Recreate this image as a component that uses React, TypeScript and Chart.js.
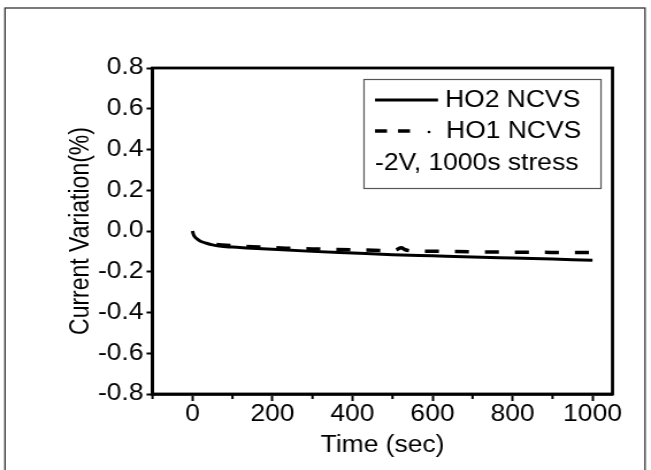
import React, { useEffect, useRef } from "react";
import { Chart, registerables } from "chart.js";

Chart.register(...registerables);

// ---- data ----
const ho2Time = [0, 2, 5, 12, 20, 35, 50, 67, 100, 135, 200, 300, 400, 500, 600, 700, 800, 900, 1000];
const ho2Values = [0, -0.015, -0.027, -0.04, -0.05, -0.06, -0.068, -0.074, -0.079, -0.083, -0.09, -0.1, -0.108, -0.116, -0.122, -0.128, -0.133, -0.138, -0.143];

const ho1Time = [60, 100, 150, 200, 250, 300, 400, 500, 512, 522, 532, 550, 600, 700, 800, 900, 1000];
const ho1Values = [-0.066, -0.072, -0.077, -0.082, -0.085, -0.088, -0.092, -0.096, -0.09, -0.082, -0.092, -0.098, -0.099, -0.102, -0.104, -0.105, -0.106];

const seriesNames = ["HO2 NCVS", "HO1 NCVS"];
const noteText = "-2V, 1000s stress";

const xTickValues = [0, 200, 400, 600, 800, 1000];
const xMinorTickValues = [-100, 100, 300, 500, 700, 900];
const yTickValues = [-0.8, -0.6, -0.4, -0.2, 0.0, 0.2, 0.4, 0.6, 0.8];

const FONT = "'Liberation Sans', Arial, sans-serif";
const FS = 23;

// the picture is slightly stretched horizontally: draw a narrower canvas then scale in X
const CW = 566;
const CH = 470;
const S = 651 / CW;
const sx = (x: number) => x / S;

const framePlugin = {
  id: "framePlugin",
  beforeDraw(chart: any) {
    const ctx = chart.ctx;
    ctx.save();
    ctx.fillStyle = "#ffffff";
    ctx.fillRect(0, 0, chart.width, chart.height);
    ctx.strokeStyle = "#333333";
    ctx.lineWidth = 1.3;
    ctx.strokeRect(sx(5), 8, sx(645) - sx(5), 480);
    ctx.restore();
  },
  afterDraw(chart: any) {
    const ctx = chart.ctx;
    const a = chart.chartArea;
    const xs = chart.scales.x;
    ctx.save();
    // box around plot
    ctx.strokeStyle = "#000";
    ctx.lineWidth = 2.8;
    ctx.strokeRect(a.left, a.top, a.right - a.left, a.bottom - a.top);
    // minor ticks on x
    ctx.lineWidth = 2;
    for (const v of xMinorTickValues) {
      const px = xs.getPixelForValue(v);
      ctx.beginPath();
      ctx.moveTo(px, a.bottom);
      ctx.lineTo(px, a.bottom + 5);
      ctx.stroke();
    }
    // legend box
    const bx = sx(364), by = 79, bw = sx(601) - sx(364), bh = 109;
    ctx.strokeStyle = "#555";
    ctx.lineWidth = 1.2;
    ctx.strokeRect(bx, by + 0.5, bw, bh);
    ctx.font = `${FS}px ${FONT}`;
    ctx.fillStyle = "#000";
    ctx.textBaseline = "middle";
    ctx.textAlign = "left";
    const ds = chart.data.datasets;
    // row 1
    ctx.strokeStyle = "#000";
    ctx.lineWidth = ds[0].borderWidth;
    ctx.setLineDash([]);
    ctx.beginPath();
    ctx.moveTo(sx(375), 100);
    ctx.lineTo(sx(438), 100);
    ctx.stroke();
    ctx.fillText(ds[0].label, sx(445), 101);
    // row 2
    ctx.lineWidth = ds[1].borderWidth;
    ctx.beginPath();
    ctx.moveTo(sx(375), 131);
    ctx.lineTo(sx(387), 131);
    ctx.moveTo(sx(398), 131);
    ctx.lineTo(sx(410), 131);
    ctx.stroke();
    ctx.beginPath();
    ctx.arc(sx(429), 132, 1.3, 0, Math.PI * 2);
    ctx.fill();
    ctx.fillText(ds[1].label, sx(446), 132);
    // row 3
    ctx.fillText(noteText, sx(375), 164);
    ctx.restore();
  },
};

export default function App() {
  const canvasRef = useRef<HTMLCanvasElement | null>(null);

  useEffect(() => {
    const canvas = canvasRef.current;
    if (!canvas) return;
    const chart = new Chart(canvas, {
      type: "line",
      data: {
        datasets: [
          {
            label: seriesNames[0],
            data: ho2Time.map((t, i) => ({ x: t, y: ho2Values[i] })),
            borderColor: "#000",
            borderWidth: 3,
            pointRadius: 0,
            cubicInterpolationMode: "monotone",
            fill: false,
          },
          {
            label: seriesNames[1],
            data: ho1Time.map((t, i) => ({ x: t, y: ho1Values[i] })),
            borderColor: "#000",
            borderWidth: 3.5,
            borderDash: [sx(14), sx(16)],
            pointRadius: 0,
            cubicInterpolationMode: "monotone",
            fill: false,
          },
        ],
      },
      options: {
        animation: false,
        responsive: false,
        devicePixelRatio: 1,
        layout: { padding: { left: 0, top: 68, right: CW - sx(612.5), bottom: 0 } },
        plugins: { legend: { display: false }, tooltip: { enabled: false } },
        scales: {
          x: {
            type: "linear",
            min: -100,
            max: 1050,
            afterBuildTicks: (s: any) => {
              s.ticks = xTickValues.map((v) => ({ value: v }));
            },
            afterFit: (s: any) => {
              s.height = 76;
            },
            ticks: {
              color: "#000",
              font: { family: FONT, size: FS },
              padding: 0,
              maxRotation: 0,
              autoSkip: false,
              callback: (v: any) => String(v),
            },
            grid: { drawOnChartArea: false, drawTicks: true, tickLength: 7, tickWidth: 2, tickColor: "#000" },
            border: { display: true, color: "#000", width: 2.8 },
            title: {
              display: true,
              text: "Time (sec)",
              color: "#000",
              font: { family: FONT, size: FS },
              padding: { top: 0, bottom: 11 },
            },
          },
          y: {
            type: "linear",
            min: -0.8,
            max: 0.8,
            afterBuildTicks: (s: any) => {
              s.ticks = yTickValues.map((v) => ({ value: v }));
            },
            afterFit: (s: any) => {
              s.width = sx(152.5);
            },
            ticks: {
              color: "#000",
              font: { family: FONT, size: FS },
              padding: sx(3),
              autoSkip: false,
              callback: (v: any) => Number(v).toFixed(1),
            },
            grid: { drawOnChartArea: false, drawTicks: true, tickLength: sx(6), tickWidth: 2, tickColor: "#000" },
            border: { display: true, color: "#000", width: 2.8 },
            title: {
              display: true,
              text: "Current Variation(%)",
              color: "#000",
              font: { family: FONT, size: FS },
              padding: { top: sx(81) - FS * 0.6, bottom: 0 },
            },
          },
        },
      } as any,
      plugins: [framePlugin],
    });
    return () => chart.destroy();
  }, []);

  return (
    <div style={{ position: "fixed", left: 0, top: 0, width: 651, height: 470, background: "#fff", overflow: "hidden" }}>
      <canvas
        ref={canvasRef}
        width={CW}
        height={CH}
        style={{ width: CW, height: CH, display: "block", transform: `scaleX(${S})`, transformOrigin: "0 0" }}
      />
    </div>
  );
}
